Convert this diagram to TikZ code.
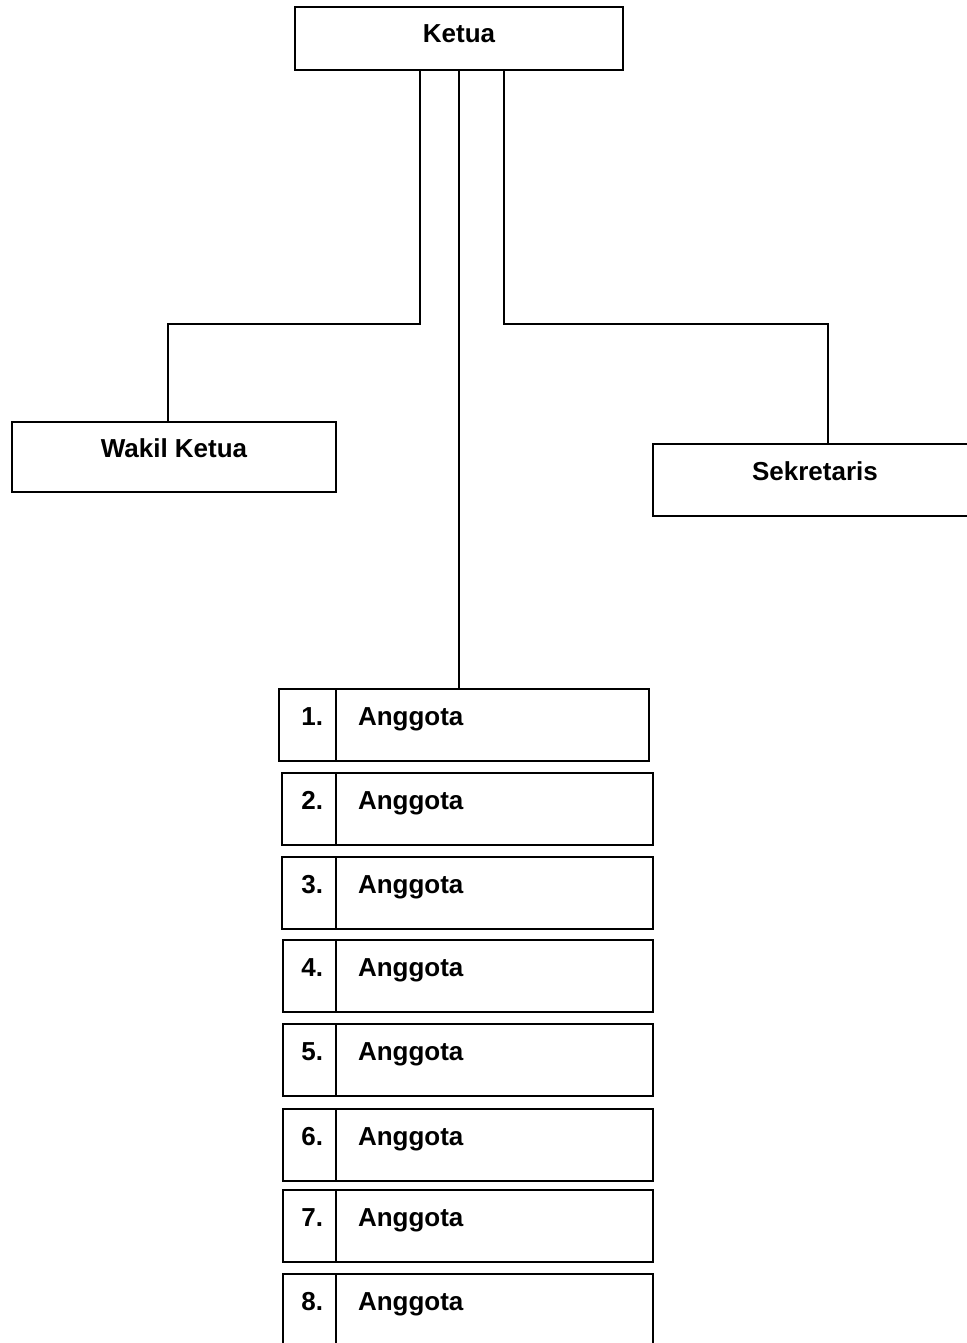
\documentclass[tikz,border=0pt]{standalone}
\usepackage{fontspec}
\setmainfont{Liberation Sans}
\usetikzlibrary{positioning}

\tikzset{
  jabatan/.style={draw, line width=1pt, outer sep=0pt, inner sep=0pt,
    font=\bfseries\fontsize{13}{15}\selectfont, text height=9pt, text depth=9pt},
  nomor/.style={jabatan, minimum height=36pt, anchor=east, align=right},
  anggota/.style={jabatan, minimum height=36pt, inner xsep=11pt, align=left},
}

\begin{document}
\begin{tikzpicture}[x=0.5pt, y=-0.5pt, line width=1pt]
    \useasboundingbox (0,0) rectangle (967,1343);

    \node[jabatan, minimum width=164pt, minimum height=31.5pt, text depth=5pt] (ketua) at (459,38.5) {Ketua};
    \node[jabatan, minimum width=162pt, minimum height=35pt] (wakil) at (174,457) {Wakil Ketua};
    \node[jabatan, minimum width=162pt, minimum height=36pt] (sekretaris) at (815,480) {Sekretaris};

    % daftar anggota
    \foreach \n/\y/\wa/\wb in {1/725/28.5/134.5, 2/809/27/136.5, 3/893/27/136.5, 4/976/26.5/136.5,
                               5/1060/26.5/136.5, 6/1145/26.5/136.5, 7/1226/26.5/136.5, 8/1310/26.5/136.5} {
        \node[nomor, text width=\wa pt] (no\n) at (336,\y) {\n.\kern6.5pt};
        \node[anggota, text width=\wb pt, right=0pt of no\n] (nama\n) {Anggota};
    }

    \coordinate (belokkiri) at (168,324);
    \coordinate (belokkanan) at (828,324);

    \draw ([xshift=-19.5pt]ketua.south) |- (belokkiri) -- (belokkiri |- wakil.north);
    \draw ([xshift=22.5pt]ketua.south) |- (belokkanan) -- (belokkanan |- sekretaris.north);
    \draw (ketua.south) -- (ketua.south |- nama1.north);

\end{tikzpicture}
\end{document}
